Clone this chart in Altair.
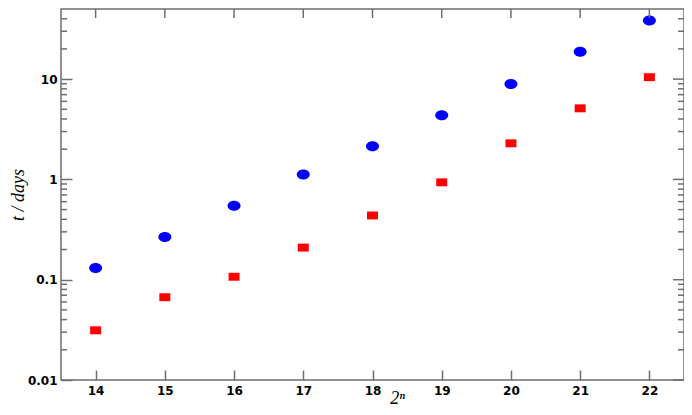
import altair as alt
import pandas as pd

# data
n_vals = [14, 15, 16, 17, 18, 19, 20, 21, 22]
blue_t = [0.131, 0.267, 0.547, 1.12, 2.14, 4.37, 8.94, 18.7, 38.3]
red_t = [0.0313, 0.0669, 0.107, 0.209, 0.437, 0.935, 2.29, 5.11, 10.45]

y_major = [0.01, 0.1, 1, 10]
y_minor = [m * 10 ** k for k in range(-2, 2) for m in range(2, 10) if m * 10 ** k < 45]

W, H = 623, 371
XDOM = [13.5, 22.5]
YDOM = [0.01, 50]

df = pd.DataFrame({"n": n_vals, "blue": blue_t, "red": red_t})
df_min = pd.DataFrame({"v": y_minor})
df_x = pd.DataFrame({"n": n_vals})
df_maj = pd.DataFrame({"v": y_major})

xs = alt.Scale(domain=XDOM, nice=False, zero=False)
ys = alt.Scale(type="log", domain=YDOM, nice=False)

label_font = "DejaVu Sans"
frame_col = "#6e6e6e"
tick_col = "#6e6e6e"

# axes pulled inward so that their ticks point into the plot
x_axis = alt.Axis(values=n_vals, format="d", grid=False, domain=False,
                  ticks=True, tickSize=10, tickColor=tick_col, tickWidth=1.5, offset=-10,
                  labelFont=label_font, labelFontWeight="bold", labelFontSize=12,
                  labelColor="#000000", labelPadding=5,
                  title="2ⁿ", titleFont="Liberation Serif", titleFontStyle="italic",
                  titleFontWeight="normal", titleFontSize=18, titleColor="#000000",
                  titleX=336, titleY=33, titleBaseline="alphabetic")
y_axis = alt.Axis(values=y_major, format="~g", grid=False, domain=False,
                  ticks=True, tickSize=11, tickColor=tick_col, tickWidth=1.5, offset=-11,
                  labelFont=label_font, labelFontWeight="bold",
                  labelFontSize=12, labelColor="#000000", labelPadding=4,
                  title="t / days", titleFont="Liberation Serif", titleFontStyle="italic",
                  titleFontWeight="normal", titleFontSize=18, titleColor="#000000",
                  titleX=-54, titleY=H / 2, titleBaseline="middle", titleAngle=270)

ELLIPSE = "M -1 0 A 1 0.77 0 1 0 1 0 A 1 0.77 0 1 0 -1 0 Z"
RECT = "M -1 -0.72 L 1 -0.72 L 1 0.72 L -1 0.72 Z"

blue = alt.Chart(df).mark_point(shape=ELLIPSE, filled=True, size=169, color="#0000ff",
                                opacity=1).encode(
    x=alt.X("n:Q", scale=xs, axis=x_axis),
    y=alt.Y("blue:Q", scale=ys, axis=y_axis),
)
red = alt.Chart(df).mark_point(shape=RECT, filled=True, size=121, color="#ff0000",
                               opacity=1).encode(
    x=alt.X("n:Q", scale=xs),
    y=alt.Y("red:Q", scale=ys),
)

# remaining inward ticks (top, right, minor) as rules
def xticks(y1, y2):
    return alt.Chart(df_x).mark_rule(color=tick_col, strokeWidth=1.5).encode(
        x=alt.X("n:Q", scale=xs), y=alt.value(y1), y2=alt.value(y2))

def yticks(data, x1, x2):
    return alt.Chart(data).mark_rule(color=tick_col, strokeWidth=1.5).encode(
        y=alt.Y("v:Q", scale=ys), x=alt.value(x1), x2=alt.value(x2))

layers = [
    blue, red,
    xticks(0, 9),
    yticks(df_maj, W, W - 11),
    yticks(df_min, 0, 6), yticks(df_min, W, W - 6),
]

chart = alt.layer(*layers).properties(
    width=W, height=H,
    autosize=alt.AutoSizeParams(type="none"),
    padding={"left": 53, "top": 1, "right": 0, "bottom": 27},
).configure_view(stroke=frame_col, strokeWidth=1.5)

chart.save("out.html", embed_options={"renderer": "svg", "actions": False})
